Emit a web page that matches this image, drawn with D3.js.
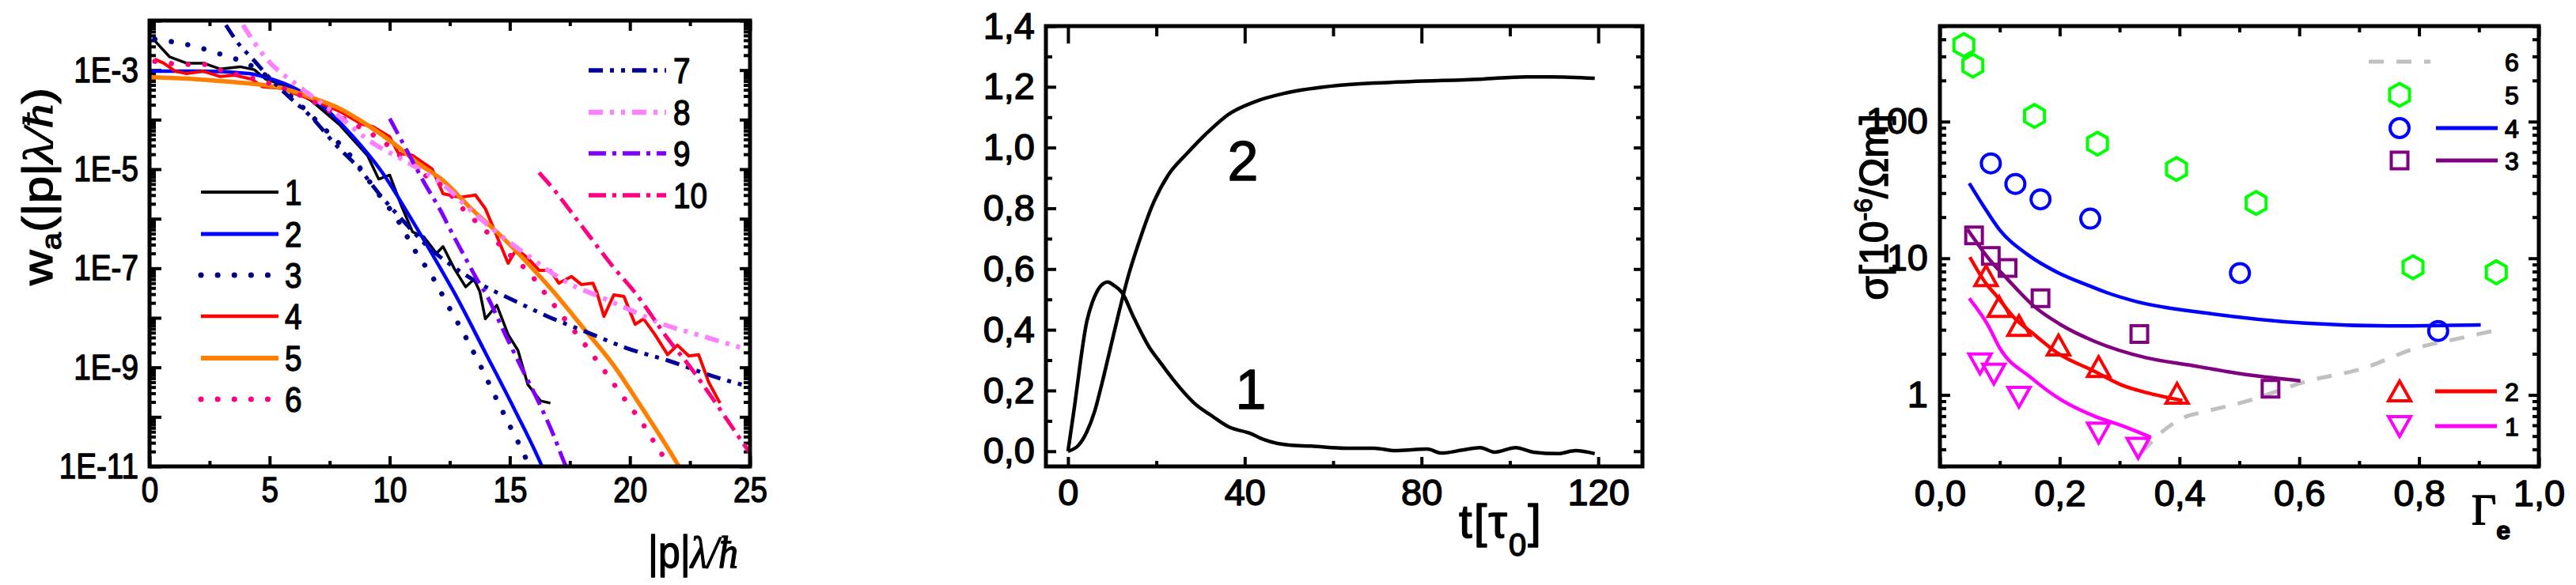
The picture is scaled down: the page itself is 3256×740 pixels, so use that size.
<!DOCTYPE html>
<meta charset="utf-8">
<style>
body { margin: 0; background: #fff; }
svg { font-family: "Liberation Sans", Arial, sans-serif; }
text { fill: #000; stroke: #000; stroke-width: 1.4px; stroke-linejoin: round; }
.tick line { stroke: #000; stroke-width: 4px; }
.frame { fill: none; stroke: #000; stroke-width: 5px; }
</style>
<body></body>
<script src="https://cdn.jsdelivr.net/npm/d3@7"></script>
<script>
// ---------- panel 1 : w_a(|p|lambda/hbar) vs |p|lambda/hbar ----------
var c1 = [[0.22,3.9e-3],[0.83,1.86e-3],[1.54,1.38e-3],[2.25,1.38e-3],[2.95,1.05e-3],[3.77,1.17e-3],[4.36,1.02e-3],[4.83,6.6e-4],[5.54,5.1e-4],[6.72,2.45e-4],[7.89,8.1e-5],[9.07,1.9e-5],[9.54,6.3e-6],[10.0,7.6e-6],[10.48,1.86e-6],[10.95,5.4e-7],[11.42,4.3e-7],[11.95,2.0e-7],[12.22,2.75e-7],[12.69,9.8e-8],[13.16,4.2e-8],[13.51,6.0e-8],[13.75,3.4e-8],[13.98,9.5e-9],[14.46,1.8e-8],[14.93,4.6e-9],[15.34,2.2e-9],[15.75,4.5e-10],[16.28,2.1e-10],[16.69,1.9e-10]];
var c2 = [[0,9.5e-4],[2.0,9.5e-4],[4.13,8.5e-4],[5.07,6.6e-4],[6.13,4.1e-4],[7.3,1.7e-4],[8.48,4.5e-5],[9.65,9.1e-6],[10.83,1.12e-6],[12.12,9.8e-8],[12.69,3.2e-8],[14.0,1.9e-9],[15.2,1.4e-10],[16.34,1.0e-11],[16.6,5e-12]];
var c3 = [[0.22,4.2e-3],[1.66,3.2e-3],[2.95,2.1e-3],[4.2,1.25e-3],[5.3,5.2e-4],[6.42,1.7e-4],[7.36,6.0e-5],[8.48,1.6e-5],[9.48,3.4e-6],[10.36,8.9e-7],[11.07,2.2e-7],[11.77,6.8e-8],[12.46,1.66e-8],[13.16,4.1e-9],[13.81,1.0e-9],[14.39,2.6e-10],[15.02,6.3e-11],[15.63,1.6e-11],[15.9,8e-12]];
var c4 = [[0.22,1.66e-3],[0.59,1.38e-3],[1.07,9.5e-4],[1.54,8.5e-4],[2.24,9.5e-4],[2.95,7.4e-4],[3.54,7.9e-4],[4.24,6.6e-4],[4.71,4.6e-4],[5.54,4.3e-4],[6.01,3.4e-4],[6.72,2.6e-4],[7.89,1.5e-4],[8.83,8.1e-5],[9.3,7.2e-5],[10.0,4.5e-5],[10.36,2.1e-5],[10.95,1.9e-5],[11.77,1.0e-5],[12.22,3.2e-6],[12.92,2.7e-6],[13.57,3.0e-6],[13.98,1.6e-6],[14.34,6.2e-7],[14.57,3.3e-7],[14.93,1.26e-7],[15.28,2.45e-7],[15.75,1.6e-7],[16.22,9.1e-8],[16.69,9.1e-8],[17.04,5.0e-8],[17.57,6.8e-8],[17.98,4.7e-8],[18.46,5.0e-8],[18.63,3.2e-8],[18.92,1.07e-8],[19.33,2.9e-8],[19.75,2.7e-8],[20.22,7.4e-9],[20.57,9.5e-9],[21.04,4.6e-9],[21.57,1.8e-9],[21.98,2.8e-9],[22.45,1.7e-9],[22.86,1.8e-9],[23.28,5.0e-10],[23.75,1.9e-10]];
var c5 = [[0,7.2e-4],[3.18,5.9e-4],[5.54,4.3e-4],[6.72,2.8e-4],[7.89,1.7e-4],[9.07,7.8e-5],[10.24,3.1e-5],[11.18,1.32e-5],[12.22,5.9e-6],[13.39,1.6e-6],[14.57,4.8e-7],[15.75,1.26e-7],[16.81,3.4e-8],[18.1,5.9e-9],[19.28,1.17e-9],[20.45,1.66e-10],[22.04,1.0e-11],[22.3,6e-12]];
var c6 = [[0.22,1.5e-3],[0.95,1.35e-3],[1.66,1.3e-3],[2.3,1.3e-3],[3.0,9.8e-4],[4.0,7.4e-4],[4.95,5.5e-4],[6.83,2.3e-4],[8.07,1.05e-4],[8.72,7.2e-5],[9.83,3.3e-5],[10.36,2.0e-5],[10.95,1.23e-5],[11.42,7.9e-6],[12.22,4.4e-6],[13.04,1.6e-6],[13.98,5.8e-7],[15.04,1.8e-7],[15.86,7.6e-8],[16.39,3.5e-8],[17.28,9.5e-9],[18.1,3.0e-9],[18.92,8.7e-10],[19.75,2.4e-10],[20.57,6.8e-11],[21.27,1.95e-11],[21.68,1.0e-11],[21.9,7e-12]];
var c7 = [[3.18,8.1e-3],[3.65,3.7e-3],[4.36,1.55e-3],[4.83,8.5e-4],[5.77,3.0e-4],[6.72,1.15e-4],[7.7,3.3e-5],[8.75,1.0e-5],[9.6,3.0e-6],[10.48,1.0e-6],[11.5,3.0e-7],[12.92,8.7e-8],[13.81,4.7e-8],[15.04,2.4e-8],[16.57,1.07e-8],[18.22,5.1e-9],[19.86,2.45e-9],[21.63,1.35e-9],[23.51,6.5e-10],[24.86,4.2e-10]];
var c8 = [[3.89,8.1e-3],[4.83,1.78e-3],[6.24,4.6e-4],[7.89,1.17e-4],[9.07,4.0e-5],[10.71,1.4e-5],[11.66,7.6e-6],[12.22,4.9e-6],[13.39,1.45e-6],[14.57,4.8e-7],[15.75,1.8e-7],[17.16,6.0e-8],[17.75,4.2e-8],[18.57,2.9e-8],[19.86,1.55e-8],[21.39,7.4e-9],[22.8,4.6e-9],[24.86,2.3e-9]];
var c9 = [[10.0,1.05e-4],[10.71,2.4e-5],[11.42,5.5e-6],[12.12,1.45e-6],[12.57,5.4e-7],[12.92,2.6e-7],[13.27,1.26e-7],[13.63,6.0e-8],[13.98,3.2e-8],[14.81,4.6e-9],[15.51,9.3e-10],[16.22,1.9e-10],[16.81,4.4e-11],[17.34,1.0e-11],[17.5,7e-12]];
var c10 = [[16.22,8.5e-6],[16.93,3.4e-6],[17.51,1.45e-6],[18.34,4.3e-7],[19.28,1.1e-7],[20.22,3.2e-8],[21.63,3.5e-9],[22.57,9.3e-10],[23.51,2.1e-10],[24.33,5.5e-11],[24.98,1.9e-11]];
var p1Labels = ["1","2","3","4","5","6","7","8","9","10"];
var p1XTicks = [0, 5, 10, 15, 20, 25];
var p1XMinor = [2.5, 7.5, 12.5, 17.5, 22.5];

// ---------- panel 2 : two curves vs t[tau_0] ----------
var t1 = [[0,0],[1.3,0.13],[4.3,0.43],[5.5,0.49],[6.6,0.527],[8.1,0.553],[9.0,0.557],[10.4,0.546],[12.2,0.523],[14.9,0.44],[18.5,0.34],[20.5,0.30],[23.8,0.236],[28.6,0.158],[32.8,0.114],[36.4,0.08],[41.2,0.059],[44.4,0.038],[50.1,0.020],[55,0.017],[62.8,0.010],[69.3,0.010],[74.1,0.002],[81.3,0.007],[84.5,-0.006],[89.3,0.004],[93.3,0.012],[96.5,-0.003],[101.3,0.012],[105.3,-0.003],[110.8,-0.008],[114.9,0.002],[119.2,-0.008]];
var t2 = [[0,0],[2.4,0.02],[4.2,0.062],[6,0.13],[7.8,0.23],[9.6,0.34],[11.4,0.45],[13.7,0.58],[16.1,0.69],[19.1,0.81],[22.7,0.91],[26.9,0.98],[31.6,1.05],[36.4,1.11],[42.1,1.15],[49.4,1.18],[61.2,1.205],[77.3,1.217],[93.3,1.225],[103.7,1.233],[109.2,1.233],[119.2,1.228]];
var p2XTicks = [0, 40, 80, 120];
var p2XMinor = [20, 60, 100];
var p2YTicks = [0, 0.2, 0.4, 0.6, 0.8, 1.0, 1.2, 1.4];
var p2YMinor = [0.1, 0.3, 0.5, 0.7, 0.9, 1.1, 1.3];

// ---------- panel 3 : sigma vs Gamma_e ----------
var hex5 = [[0.040,363],[0.055,257],[0.158,110],[0.263,69],[0.395,45],[0.528,25.4],[0.79,8.6],[0.929,7.9]];
var circ4 = [[0.085,49.5],[0.126,35],[0.168,27],[0.251,19.5],[0.501,7.8],[0.832,2.94]];
var line4 = [[0.049,35.4],[0.072,24.4],[0.099,16.3],[0.147,10.6],[0.196,7.9],[0.249,6.3],[0.279,5.6],[0.33,4.8],[0.45,3.95],[0.61,3.35],[0.75,3.2],[0.903,3.25]];
var sq3 = [[0.057,14.7],[0.085,10.4],[0.113,8.5],[0.168,5.1],[0.333,2.79],[0.552,1.11]];
var line3 = [[0.046,16.3],[0.081,10],[0.112,7.1],[0.134,5.6],[0.156,4.5],[0.2,3.3],[0.258,2.47],[0.345,1.87],[0.422,1.64],[0.516,1.40],[0.602,1.27]];
var tri2 = [[0.077,7.4],[0.099,4.4],[0.132,3.2],[0.198,2.3],[0.265,1.6],[0.396,1.02]];
var line2 = [[0.05,10.2],[0.081,6.2],[0.09,5.6],[0.126,3.6],[0.156,2.8],[0.196,2.03],[0.258,1.49],[0.302,1.19],[0.345,1.04],[0.405,0.91]];
var tri1 = [[0.067,1.70],[0.09,1.43],[0.132,0.97],[0.265,0.53],[0.331,0.41]];
var line1 = [[0.049,5.1],[0.081,3.2],[0.1,2.2],[0.152,1.34],[0.2,0.935],[0.258,0.70],[0.302,0.60],[0.352,0.49]];
var line6 = [[0.337,0.38],[0.365,0.51],[0.413,0.70],[0.434,0.74],[0.516,0.91],[0.61,1.25],[0.703,1.55],[0.798,2.22],[0.868,2.6],[0.929,2.98]];
var p3XTicks = [0, 0.2, 0.4, 0.6, 0.8, 1.0];
var p3XMinor = [0.1, 0.3, 0.5, 0.7, 0.9];
var p3YTicks = [1, 10, 100];

var svg = d3.select("body").append("svg")
  .attr("width", 3256)
  .attr("height", 740);

var comma = function(d) { return d3.format(".1f")(d).replace(".", ","); };

// inward ticks on all four sides, domain lines dropped (frame is a rect)
function tickRow(g, axis, vals, len, pad, fmt) {
  g.call(axis.tickValues(vals).tickSize(-len).tickPadding(pad).tickFormat(fmt || ""));
  g.select(".domain").remove();
  g.attr("font-size", null).attr("font-family", null);
  return g;
}

// panel 1 is horizontally squeezed in the source picture
function squeeze(sel, k) {
  sel.each(function() {
    var t = d3.select(this);
    var x = +t.attr("x") || 0, y = +t.attr("y") || 0;
    t.attr("x", 0).attr("y", 0)
      .attr("transform", "translate(" + x + "," + y + ") scale(" + k + ",1)");
  });
}

function decades(lo, hi) {
  var out = [];
  for (var e = lo; e <= hi; e++) out.push(Math.pow(10, e));
  return out;
}
function minors(lo, hi, a, b) {
  var out = [];
  for (var e = lo; e <= hi; e++)
    for (var m = 2; m <= 9; m++) {
      var v = m * Math.pow(10, e);
      if (v >= a && v <= b) out.push(v);
    }
  return out;
}

// =================== PANEL 1 ===================
var x1 = d3.scaleLinear().domain([0, 25]).range([189, 948]);
var y1 = d3.scaleLog().domain([1e-11, 1e-2]).range([590, 26]);
var g1 = svg.append("g");
var K = 0.86;

g1.append("clipPath").attr("id", "clip1").append("rect")
  .attr("x", 189).attr("y", 26).attr("width", 759).attr("height", 564);

var fmt1 = function(d) {
  var e = Math.round(Math.log10(d));
  return (e % 2 !== 0) ? "1E" + e : "";
};

var ax;
ax = tickRow(g1.append("g").attr("transform", "translate(0,590)"), d3.axisBottom(x1), p1XTicks, 13, 13, d3.format("d"));
ax.selectAll("text").style("font-size", "45px");
squeeze(ax.selectAll("text"), K);
tickRow(g1.append("g").attr("transform", "translate(0,590)"), d3.axisBottom(x1), p1XMinor, 7, 0);
tickRow(g1.append("g").attr("transform", "translate(0,26)"), d3.axisTop(x1), p1XTicks, 13, 0);
tickRow(g1.append("g").attr("transform", "translate(0,26)"), d3.axisTop(x1), p1XMinor, 7, 0);
ax = tickRow(g1.append("g").attr("transform", "translate(189,0)"), d3.axisLeft(y1), decades(-11, -2), 15, 14, fmt1);
ax.selectAll("text").style("font-size", "45px");
squeeze(ax.selectAll("text"), K);
tickRow(g1.append("g").attr("transform", "translate(189,0)"), d3.axisLeft(y1), minors(-11, -3, 1e-11, 1e-2), 8, 0);
tickRow(g1.append("g").attr("transform", "translate(948,0)"), d3.axisRight(y1), decades(-11, -2), 13, 0);
tickRow(g1.append("g").attr("transform", "translate(948,0)"), d3.axisRight(y1), minors(-11, -3, 1e-11, 1e-2), 8, 0);

var series1 = [
  { d: c1, color: "#000000", w: 3.5, dash: null, curve: d3.curveLinear },
  { d: c2, color: "#0000ff", w: 4.5, dash: null, curve: d3.curveMonotoneX },
  { d: c3, color: "#000088", w: 6.5, dash: "0.1 21", cap: "round", curve: d3.curveMonotoneX },
  { d: c4, color: "#ff0000", w: 4, dash: null, curve: d3.curveLinear },
  { d: c5, color: "#ff8000", w: 5.5, dash: null, curve: d3.curveMonotoneX },
  { d: c6, color: "#ff0080", w: 6.5, dash: "0.1 21", cap: "round", curve: d3.curveMonotoneX },
  { d: c7, color: "#000099", w: 5, dash: "18 9 5 9 5 9", curve: d3.curveMonotoneX },
  { d: c8, color: "#ff80ff", w: 6, dash: "18 9 5 9 5 9", curve: d3.curveMonotoneX },
  { d: c9, color: "#8000ff", w: 5, dash: "22 8 5 8", curve: d3.curveMonotoneX },
  { d: c10, color: "#ff0080", w: 5, dash: "22 8 5 8", curve: d3.curveMonotoneX }
];

var plot1 = g1.append("g").attr("clip-path", "url(#clip1)");
series1.forEach(function(s) {
  var line = d3.line().curve(s.curve)
    .x(function(d) { return x1(d[0]); })
    .y(function(d) { return y1(Math.max(d[1], 1e-12)); });
  plot1.append("path")
    .attr("d", line(s.d))
    .attr("fill", "none")
    .attr("stroke", s.color)
    .attr("stroke-width", s.w)
    .attr("stroke-linecap", s.cap || "butt")
    .attr("stroke-linejoin", "round")
    .attr("stroke-dasharray", s.dash);
});

g1.append("rect").attr("class", "frame")
  .attr("x", 189).attr("y", 26).attr("width", 759).attr("height", 564);

// legends of panel 1
var legY1 = [243, 296, 348, 400, 453, 505, 89, 142, 194, 247];
series1.forEach(function(s, i) {
  var left = i < 6;
  var xa = left ? 254 : 744, xb = left ? 352 : 842;
  g1.append("line")
    .attr("x1", xa).attr("x2", xb)
    .attr("y1", legY1[i]).attr("y2", legY1[i])
    .attr("stroke", s.color)
    .attr("stroke-width", s.w + 0.5)
    .attr("stroke-linecap", s.cap || "butt")
    .attr("stroke-dasharray", s.dash);
  g1.append("text")
    .attr("transform", "translate(" + (left ? 360 : 851) + "," + legY1[i] + ") scale(" + K + ",1)")
    .attr("dy", "0.36em")
    .style("font-size", "45px")
    .text(p1Labels[i]);
});

// axis titles of panel 1
var yt1 = g1.append("text")
  .attr("transform", "translate(66,236) rotate(-90) scale(1," + K + ")")
  .attr("text-anchor", "middle")
  .style("font-size", "62px");
yt1.append("tspan").text("w");
yt1.append("tspan").attr("dy", 13).style("font-size", "40px").text("a");
yt1.append("tspan").attr("dy", -13).text("(|p|");
yt1.append("tspan").style("font-family", "'Liberation Serif', serif").style("font-style", "italic").text("λ/ħ");
yt1.append("tspan").text(")");

var xt1 = g1.append("text")
  .attr("transform", "translate(876,718) scale(" + K + ",1)")
  .attr("text-anchor", "middle")
  .style("font-size", "58px");
xt1.append("tspan").text("|p|");
xt1.append("tspan").style("font-family", "'Liberation Serif', serif").style("font-style", "italic").text("λ/ħ");

// =================== PANEL 2 ===================
var x2 = d3.scaleLinear().domain([-5, 130]).range([1322, 2076]);
var y2 = d3.scaleLinear().domain([-0.05, 1.4]).range([590, 33]);
var g2 = svg.append("g");

ax = tickRow(g2.append("g").attr("transform", "translate(0,590)"), d3.axisBottom(x2), p2XTicks, 12, 16, d3.format("d"));
ax.selectAll("text").style("font-size", "47px");
tickRow(g2.append("g").attr("transform", "translate(0,590)"), d3.axisBottom(x2), p2XMinor, 7, 0);
tickRow(g2.append("g").attr("transform", "translate(0,33)"), d3.axisTop(x2), p2XTicks, 22, 0);
tickRow(g2.append("g").attr("transform", "translate(0,33)"), d3.axisTop(x2), p2XMinor, 13, 0);
ax = tickRow(g2.append("g").attr("transform", "translate(1322,0)"), d3.axisLeft(y2), p2YTicks, 13, 14, comma);
ax.selectAll("text").style("font-size", "47px");
tickRow(g2.append("g").attr("transform", "translate(1322,0)"), d3.axisLeft(y2), p2YMinor, 8, 0);
tickRow(g2.append("g").attr("transform", "translate(2076,0)"), d3.axisRight(y2), p2YTicks, 11, 0);
tickRow(g2.append("g").attr("transform", "translate(2076,0)"), d3.axisRight(y2), p2YMinor, 8, 0);

var line2d = d3.line().curve(d3.curveMonotoneX)
  .x(function(d) { return x2(d[0]); })
  .y(function(d) { return y2(d[1]); });
[t1, t2].forEach(function(d) {
  g2.append("path").attr("d", line2d(d))
    .attr("fill", "none").attr("stroke", "#000").attr("stroke-width", 4.5)
    .attr("stroke-linejoin", "round");
});

g2.append("rect").attr("class", "frame")
  .attr("x", 1322).attr("y", 33).attr("width", 754).attr("height", 557);

g2.append("text").attr("x", 1571).attr("y", 228).attr("text-anchor", "middle")
  .style("font-size", "70px").text("2");
g2.append("text").attr("x", 1581).attr("y", 517).attr("text-anchor", "middle")
  .style("font-size", "70px").text("1");

var xt2 = g2.append("text").attr("x", 1844).attr("y", 680)
  .style("font-size", "60px").style("letter-spacing", "2px");
xt2.append("tspan").text("t[τ");
xt2.append("tspan").attr("dy", 23).style("font-size", "40px").text("0");
xt2.append("tspan").attr("dy", -23).text("]");

// =================== PANEL 3 ===================
var x3 = d3.scaleLinear().domain([0, 1]).range([2452, 3209]);
var y3 = d3.scaleLog().domain([0.3, 500]).range([590, 33]);
var g3 = svg.append("g");

g3.append("clipPath").attr("id", "clip3").append("rect")
  .attr("x", 2452).attr("y", 33).attr("width", 757).attr("height", 557);

ax = tickRow(g3.append("g").attr("transform", "translate(0,590)"), d3.axisBottom(x3), p3XTicks, 12, 17, comma);
ax.selectAll("text").style("font-size", "47px");
tickRow(g3.append("g").attr("transform", "translate(0,590)"), d3.axisBottom(x3), p3XMinor, 7, 0);
tickRow(g3.append("g").attr("transform", "translate(0,33)"), d3.axisTop(x3), p3XTicks, 13, 0);
tickRow(g3.append("g").attr("transform", "translate(0,33)"), d3.axisTop(x3), p3XMinor, 8, 0);
ax = tickRow(g3.append("g").attr("transform", "translate(2452,0)"), d3.axisLeft(y3), p3YTicks, 13, 15, d3.format("d"));
ax.selectAll("text").style("font-size", "47px");
tickRow(g3.append("g").attr("transform", "translate(2452,0)"), d3.axisLeft(y3), minors(-1, 2, 0.3, 500), 8, 0);
tickRow(g3.append("g").attr("transform", "translate(3209,0)"), d3.axisRight(y3), p3YTicks, 13, 0);
tickRow(g3.append("g").attr("transform", "translate(3209,0)"), d3.axisRight(y3), minors(-1, 2, 0.3, 500), 8, 0);

function hexPath(r) {
  var p = d3.path();
  for (var i = 0; i < 6; i++) {
    var a = Math.PI / 180 * (-90 + 60 * i);
    if (i === 0) p.moveTo(r * Math.cos(a), r * Math.sin(a));
    else p.lineTo(r * Math.cos(a), r * Math.sin(a));
  }
  p.closePath();
  return p.toString();
}
var shapes = {
  hex: hexPath(14.5),
  circle: d3.symbol(d3.symbolCircle, Math.PI * 12 * 12)(),
  square: d3.symbol(d3.symbolSquare, 21 * 21)(),
  up: "M0,-13L14,12L-14,12Z",
  down: "M0,13L14,-12L-14,-12Z"
};

var lineGen3 = d3.line().curve(d3.curveMonotoneX)
  .x(function(d) { return x3(d[0]); })
  .y(function(d) { return y3(d[1]); });

var plot3 = g3.append("g").attr("clip-path", "url(#clip3)");
plot3.append("path").attr("d", lineGen3(line6))
  .attr("fill", "none").attr("stroke", "#c0c0c0").attr("stroke-width", 5)
  .attr("stroke-dasharray", "19 16");
[[line4, "#0000ff"], [line3, "#800080"], [line2, "#ff0000"], [line1, "#ff00ff"]].forEach(function(s) {
  plot3.append("path").attr("d", lineGen3(s[0]))
    .attr("fill", "none").attr("stroke", s[1]).attr("stroke-width", 4.5)
    .attr("stroke-linejoin", "round");
});

var marks3 = [[hex5, "hex", "#00ff00"], [circ4, "circle", "#0000ff"], [sq3, "square", "#800080"],
              [tri2, "up", "#ff0000"], [tri1, "down", "#ff00ff"]];
marks3.forEach(function(m) {
  plot3.selectAll(null).data(m[0]).enter().append("path")
    .attr("d", shapes[m[1]])
    .attr("transform", function(d) { return "translate(" + x3(d[0]) + "," + y3(d[1]) + ")"; })
    .attr("fill", "none").attr("stroke", m[2]).attr("stroke-width", 4);
});

g3.append("rect").attr("class", "frame")
  .attr("x", 2452).attr("y", 33).attr("width", 757).attr("height", 557);

// legend of panel 3
var leg3 = [
  { lab: "6", y: 78, line: "#c0c0c0", dash: "19 16", lx: [2994, 3072] },
  { lab: "5", y: 120, mark: "hex", mc: "#00ff00" },
  { lab: "4", y: 162, mark: "circle", mc: "#0000ff", line: "#0000ff", lx: [3079, 3157] },
  { lab: "3", y: 203, mark: "square", mc: "#800080", line: "#800080", lx: [3079, 3157] },
  { lab: "2", y: 495, mark: "up", mc: "#ff0000", line: "#ff0000", lx: [3078, 3156] },
  { lab: "1", y: 539, mark: "down", mc: "#ff00ff", line: "#ff00ff", lx: [3078, 3156] }
];
leg3.forEach(function(l) {
  if (l.line) g3.append("line").attr("x1", l.lx[0]).attr("x2", l.lx[1])
    .attr("y1", l.y).attr("y2", l.y).attr("stroke", l.line).attr("stroke-width", 5)
    .attr("stroke-dasharray", l.dash || null);
  if (l.mark) g3.append("path").attr("d", shapes[l.mark])
    .attr("transform", "translate(3033," + l.y + ")")
    .attr("fill", "none").attr("stroke", l.mc).attr("stroke-width", 4);
  g3.append("text").attr("x", 3175).attr("y", l.y).attr("dy", "0.36em")
    .attr("text-anchor", "middle").style("font-size", "32px").text(l.lab);
});

var yt3 = g3.append("text")
  .attr("transform", "translate(2386,262) rotate(-90)")
  .attr("text-anchor", "middle")
  .style("font-size", "50px");
yt3.append("tspan").text("σ[10");
yt3.append("tspan").attr("dy", -20).style("font-size", "32px").text("-6");
yt3.append("tspan").attr("dy", 20).text("/Ωm]");

var xt3 = g3.append("text").attr("x", 3124).attr("y", 663);
xt3.append("tspan").style("font-family", "'Liberation Serif', serif").style("font-size", "54px").text("Γ");
xt3.append("tspan").attr("dy", 19).style("font-size", "32px").style("font-weight", "bold").text("e");
</script>
